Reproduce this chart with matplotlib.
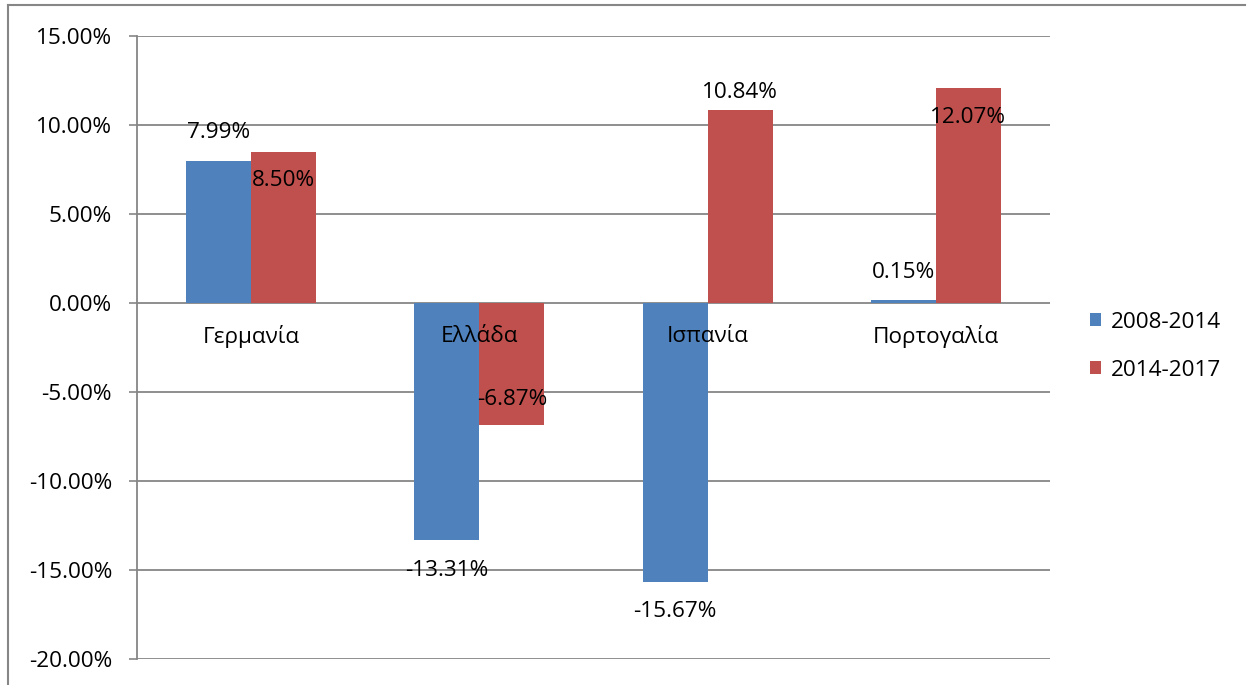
import matplotlib.pyplot as plt
from matplotlib.patches import Patch
from matplotlib.lines import Line2D
from matplotlib.ticker import FuncFormatter
import numpy as np

plt.rcParams['font.family'] = ['Open Sans', 'DejaVu Sans']

# Δεδομένα
countries = ['Γερμανία', 'Ελλάδα', 'Ισπανία', 'Πορτογαλία']
series_names = ['2008-2014', '2014-2017']
vals_0814 = [7.99, -13.31, -15.67, 0.15]
vals_1417 = [8.50, -6.87, 10.84, 12.07]
colors = ['#4F81BD', '#C0504D']

# μετατόπιση ετικετών σε pixel (θετικό = προς τα κάτω)
label_shift_0814 = [-28, 31, 30, -28]
label_shift_1417 = [29, -26, -18, 29]

W, H = 1255, 685
fig = plt.figure(figsize=(W / 100, H / 100), dpi=100)
ax = fig.add_axes([137 / W, 1 - 659 / H, (1050 - 137) / W, (659 - 36) / H])

grey = '#868686'
fs = 16.2
x = np.arange(len(countries))
bw = 0.285

for k, (vals, shifts) in enumerate([(vals_0814, label_shift_0814), (vals_1417, label_shift_1417)]):
    xs = x + (k - 0.5) * bw
    ax.bar(xs, vals, width=bw, color=colors[k], zorder=3)
    for xi, v, s in zip(xs, vals, shifts):
        ax.annotate(f'{v:.2f}%', (xi, v), xytext=(0, -s), textcoords='offset pixels',
                    ha='center', va='center', fontsize=fs, color='black', zorder=5)

# ονόματα χωρών κάτω από τη γραμμή του μηδενός
for xi, name in zip(x, countries):
    ax.annotate(name, (xi, 0), xytext=(0, -33), textcoords='offset pixels',
                ha='center', va='center', fontsize=fs, zorder=5)

ax.set_xlim(-0.5, len(countries) - 0.5)
ax.set_ylim(-20, 15)
ax.set_yticks(np.arange(-20, 15.1, 5))
ax.yaxis.set_major_formatter(FuncFormatter(lambda v, p: f'{v:.2f}%'))
ax.set_xticks([])
ax.tick_params(axis='y', length=6, width=1.2, color=grey, pad=12, labelsize=fs)
ax.grid(axis='y', color=grey, lw=1.3, zorder=1)
for sp in ['top', 'right', 'bottom']:
    ax.spines[sp].set_visible(False)
ax.spines['left'].set_color(grey)
ax.spines['left'].set_linewidth(1.3)

handles = [Patch(facecolor=c, edgecolor='none') for c in colors]
fig.legend(handles, series_names, loc='center left',
           bbox_to_anchor=(1090 / W, 1 - 346 / H), frameon=False,
           fontsize=fs, handlelength=0.5, handleheight=0.55,
           handletextpad=0.45, labelspacing=1.2, borderpad=0, borderaxespad=0)

# περίγραμμα
fig.add_artist(Line2D([8 / W, 1245 / W], [1 - 5 / H, 1 - 5 / H], color=grey, lw=1.5))
fig.add_artist(Line2D([8 / W, 8 / W], [0, 1 - 5 / H], color=grey, lw=1.5))

fig.savefig('out.png', dpi=100, facecolor='white')
